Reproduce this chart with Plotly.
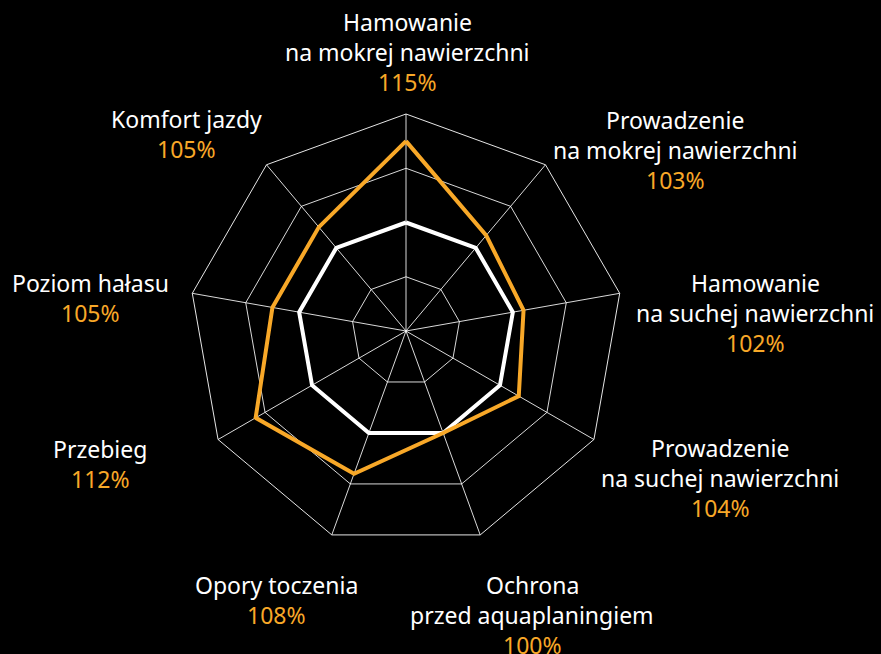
import plotly.graph_objects as go

# ---- data ----
categories = [
    "Hamowanie na mokrej nawierzchni",
    "Prowadzenie na mokrej nawierzchni",
    "Hamowanie na suchej nawierzchni",
    "Prowadzenie na suchej nawierzchni",
    "Ochrona przed aquaplaningiem",
    "Opory toczenia",
    "Przebieg",
    "Poziom hałasu",
    "Komfort jazdy",
]
label_lines = [
    ["Hamowanie", "na mokrej nawierzchni"],
    ["Prowadzenie", "na mokrej nawierzchni"],
    ["Hamowanie", "na suchej nawierzchni"],
    ["Prowadzenie", "na suchej nawierzchni"],
    ["Ochrona", "przed aquaplaningiem"],
    ["Opory toczenia"],
    ["Przebieg"],
    ["Poziom hałasu"],
    ["Komfort jazdy"],
]
values = [115, 103, 102, 104, 100, 108, 112, 105, 105]
baseline = [100, 100, 100, 100, 100, 100, 100, 100, 100]
radial_ticks = [90, 100, 110, 120]

# ---- style / layout ----
W, H = 881, 654
ORANGE = "#F8A828"
FONT = "Noto Sans"
# label block anchors (center x, y of first line center) in pixels
label_pos = [
    (407, 22), (675, 120), (755, 283), (720, 448), (532, 585),
    (276, 585), (100, 449), (90, 283), (186, 119),
]
LINE_GAP = 30

cx, cy, R = 406, 331, 217

fig = go.Figure()
theta_closed = categories + categories[:1]
fig.add_trace(go.Scatterpolar(
    r=baseline + baseline[:1], theta=theta_closed, mode="lines",
    line=dict(color="white", width=4), hoverinfo="skip", showlegend=False))
fig.add_trace(go.Scatterpolar(
    r=values + values[:1], theta=theta_closed, mode="lines",
    line=dict(color=ORANGE, width=4), showlegend=False))

annotations = []
for (x, y), lines, v in zip(label_pos, label_lines, values):
    texts = [(t, "white") for t in lines] + [(f"{v}%", ORANGE)]
    for i, (t, col) in enumerate(texts):
        annotations.append(dict(
            x=x / W, y=1 - (y + i * LINE_GAP) / H, xref="paper", yref="paper",
            text=t, showarrow=False, xanchor="center", yanchor="middle",
            font=dict(family=FONT, size=23, color=col)))

fig.update_layout(
    width=W, height=H,
    paper_bgcolor="black", plot_bgcolor="black",
    margin=dict(l=0, r=0, t=0, b=0),
    polar=dict(
        bgcolor="black",
        gridshape="linear",
        domain=dict(x=[(cx - R) / W, (cx + R) / W], y=[1 - (cy + R) / H, 1 - (cy - R) / H]),
        angularaxis=dict(
            direction="clockwise", rotation=90, showticklabels=False, ticks="",
            showline=True, linecolor="rgba(255,255,255,0.9)", linewidth=1,
            gridcolor="rgba(255,255,255,0.85)", gridwidth=1),
        radialaxis=dict(
            range=[80, 120], tickvals=radial_ticks, showticklabels=False, ticks="",
            showline=False, gridcolor="rgba(255,255,255,0.85)", gridwidth=1),
    ),
    annotations=annotations,
)

fig.write_html(
    "out.html",
    config={"displayModeBar": False},
    post_script="document.body.style.margin='0';document.body.style.background='black';",
)
